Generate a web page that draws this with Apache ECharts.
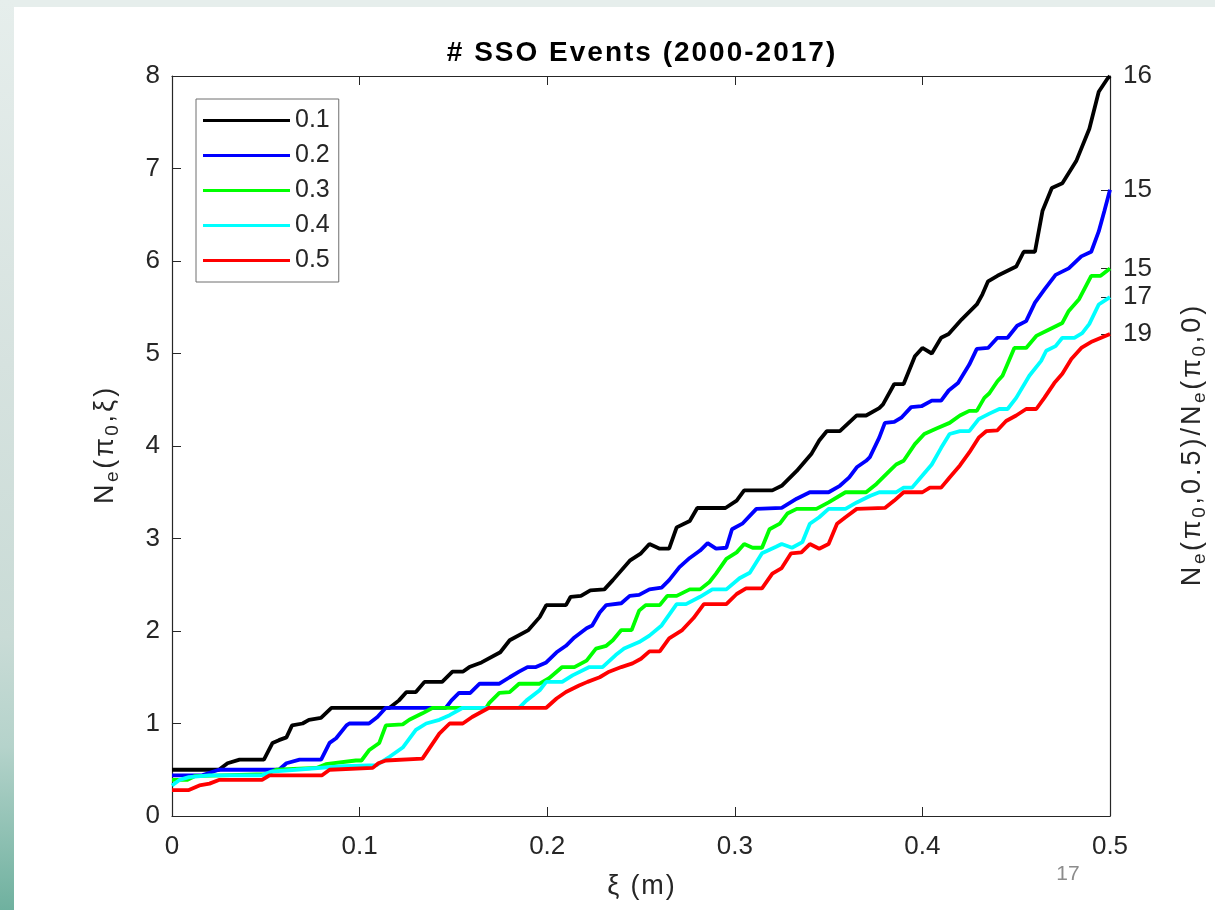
<!DOCTYPE html>
<html>
<head>
<meta charset="utf-8">
<title># SSO Events (2000-2017)</title>
<script src="https://cdn.jsdelivr.net/npm/echarts@6/dist/echarts.min.js"></script>
<style>
  html, body { margin: 0; padding: 0; width: 1215px; height: 910px; overflow: hidden; background: #e6eeec; }
  #strip { position: absolute; left: 0; top: 0; width: 14px; height: 910px;
    background: linear-gradient(to bottom, #e6eeec 0%, #d6e2df 40%, #c9dbd6 70%, #b5d3cb 82%, #6fb19f 100%); }
  #page { position: absolute; left: 14px; top: 7px; right: 0; bottom: 0; background: #ffffff; }
  #chart { position: absolute; left: 0; top: 0; width: 1215px; height: 910px; }
</style>
</head>
<body>
<div id="strip"></div>
<div id="page"></div>
<div id="chart"></div>
<script>
// Legend entries (pi_0 values) and curve colours
const piLevels = ['0.1', '0.2', '0.3', '0.4', '0.5'];
const curveColors = ['#000000', '#0000ff', '#00ff00', '#00ffff', '#ff0000'];
const xTicks = [0, 0.1, 0.2, 0.3, 0.4, 0.5];
const yTicks = [0, 1, 2, 3, 4, 5, 6, 7, 8];

// N_e(pi_0, xi) curves as [xi, N_e] pairs
const ne01 = [[0,0.5],[0.025,0.5],[0.0296,0.57],[0.036,0.61],[0.049,0.61],[0.0536,0.79],[0.057,0.82],[0.061,0.85],[0.064,0.98],[0.0696,1.0],[0.073,1.04],[0.0794,1.06],[0.085,1.17],[0.116,1.17],[0.121,1.25],[0.125,1.34],[0.13,1.34],[0.1346,1.45],[0.144,1.45],[0.1495,1.56],[0.155,1.56],[0.1585,1.61],[0.165,1.66],[0.175,1.77],[0.18,1.9],[0.19,2.01],[0.196,2.15],[0.1995,2.28],[0.21,2.28],[0.2125,2.37],[0.218,2.38],[0.223,2.44],[0.2305,2.45],[0.235,2.55],[0.244,2.76],[0.25,2.84],[0.2545,2.94],[0.26,2.89],[0.265,2.89],[0.269,3.12],[0.276,3.19],[0.28,3.33],[0.295,3.33],[0.301,3.41],[0.305,3.52],[0.32,3.52],[0.325,3.57],[0.333,3.73],[0.341,3.92],[0.345,4.06],[0.349,4.16],[0.356,4.16],[0.365,4.33],[0.37,4.33],[0.377,4.41],[0.379,4.45],[0.385,4.67],[0.39,4.67],[0.396,4.97],[0.4,5.06],[0.405,5.0],[0.41,5.17],[0.414,5.21],[0.421,5.37],[0.429,5.53],[0.432,5.64],[0.435,5.78],[0.44,5.84],[0.45,5.94],[0.454,6.1],[0.46,6.1],[0.464,6.54],[0.469,6.79],[0.4746,6.84],[0.482,7.08],[0.489,7.43],[0.494,7.83],[0.4986,7.97],[0.5,8.0]];
const ne02 = [[0,0.44],[0.016,0.44],[0.025,0.5],[0.057,0.5],[0.061,0.57],[0.068,0.61],[0.0795,0.61],[0.084,0.79],[0.0875,0.84],[0.093,0.98],[0.0945,1.0],[0.105,1.0],[0.1095,1.07],[0.114,1.17],[0.146,1.17],[0.149,1.25],[0.153,1.33],[0.159,1.33],[0.164,1.43],[0.1745,1.43],[0.18,1.5],[0.185,1.56],[0.1895,1.61],[0.194,1.61],[0.1995,1.66],[0.205,1.77],[0.21,1.84],[0.2145,1.93],[0.221,2.03],[0.224,2.06],[0.228,2.2],[0.2315,2.28],[0.2395,2.3],[0.244,2.38],[0.249,2.39],[0.2545,2.45],[0.261,2.47],[0.265,2.55],[0.2705,2.69],[0.276,2.79],[0.2815,2.87],[0.2855,2.95],[0.29,2.89],[0.2955,2.9],[0.2985,3.1],[0.304,3.16],[0.3115,3.32],[0.325,3.33],[0.333,3.43],[0.34,3.5],[0.35,3.5],[0.356,3.57],[0.361,3.66],[0.365,3.77],[0.37,3.84],[0.372,3.88],[0.377,4.09],[0.38,4.25],[0.385,4.26],[0.389,4.31],[0.394,4.42],[0.3995,4.43],[0.405,4.49],[0.41,4.49],[0.414,4.6],[0.419,4.68],[0.425,4.88],[0.429,5.05],[0.435,5.06],[0.44,5.17],[0.4454,5.17],[0.4505,5.3],[0.4553,5.35],[0.46,5.55],[0.465,5.69],[0.471,5.85],[0.478,5.92],[0.4847,6.05],[0.49,6.1],[0.494,6.32],[0.497,6.54],[0.5,6.77]];
const ne03 = [[0,0.39],[0.008,0.39],[0.012,0.43],[0.045,0.45],[0.05,0.45],[0.0555,0.5],[0.077,0.52],[0.082,0.56],[0.098,0.6],[0.101,0.6],[0.105,0.71],[0.1105,0.79],[0.114,0.98],[0.123,0.99],[0.1265,1.04],[0.1335,1.11],[0.139,1.17],[0.1675,1.17],[0.169,1.22],[0.1745,1.33],[0.18,1.34],[0.185,1.43],[0.196,1.43],[0.201,1.49],[0.208,1.61],[0.2145,1.61],[0.221,1.68],[0.226,1.81],[0.2315,1.84],[0.235,1.9],[0.2395,2.01],[0.245,2.01],[0.249,2.22],[0.2525,2.28],[0.26,2.28],[0.264,2.38],[0.269,2.38],[0.276,2.45],[0.2815,2.45],[0.2865,2.53],[0.29,2.62],[0.2955,2.78],[0.301,2.85],[0.305,2.94],[0.3095,2.9],[0.3145,2.9],[0.3185,3.1],[0.324,3.16],[0.328,3.27],[0.333,3.32],[0.3435,3.32],[0.35,3.39],[0.359,3.5],[0.37,3.5],[0.3755,3.59],[0.3825,3.73],[0.386,3.8],[0.39,3.84],[0.396,4.02],[0.401,4.13],[0.4075,4.19],[0.4145,4.25],[0.42,4.33],[0.425,4.38],[0.429,4.38],[0.433,4.52],[0.4357,4.57],[0.44,4.7],[0.4427,4.76],[0.449,5.06],[0.4553,5.06],[0.4607,5.19],[0.4676,5.26],[0.4746,5.33],[0.478,5.46],[0.4836,5.59],[0.49,5.84],[0.495,5.84],[0.5,5.92]];
const ne04 = [[0,0.33],[0.004,0.39],[0.009,0.42],[0.02,0.44],[0.048,0.44],[0.053,0.48],[0.066,0.5],[0.091,0.54],[0.109,0.55],[0.116,0.64],[0.123,0.74],[0.13,0.93],[0.1355,1.0],[0.1425,1.04],[0.148,1.09],[0.155,1.17],[0.185,1.17],[0.189,1.25],[0.196,1.36],[0.1995,1.45],[0.208,1.45],[0.2135,1.52],[0.2225,1.61],[0.2295,1.61],[0.2365,1.74],[0.241,1.81],[0.249,1.88],[0.2545,1.95],[0.261,2.06],[0.269,2.29],[0.274,2.29],[0.2815,2.37],[0.288,2.45],[0.2955,2.45],[0.3025,2.57],[0.308,2.63],[0.3145,2.84],[0.322,2.91],[0.325,2.94],[0.3305,2.9],[0.336,2.96],[0.34,3.16],[0.345,3.23],[0.35,3.32],[0.359,3.32],[0.365,3.39],[0.372,3.46],[0.377,3.5],[0.386,3.5],[0.39,3.55],[0.3945,3.55],[0.4,3.68],[0.405,3.8],[0.41,3.98],[0.4145,4.13],[0.42,4.16],[0.425,4.16],[0.43,4.29],[0.4357,4.35],[0.441,4.4],[0.4454,4.4],[0.45,4.52],[0.457,4.76],[0.4633,4.92],[0.466,5.03],[0.471,5.08],[0.4746,5.17],[0.481,5.17],[0.4852,5.22],[0.489,5.32],[0.494,5.53],[0.5,5.61]];
const ne05 = [[0,0.28],[0.009,0.28],[0.0146,0.33],[0.02,0.35],[0.025,0.39],[0.048,0.39],[0.052,0.44],[0.08,0.44],[0.084,0.5],[0.107,0.52],[0.11,0.57],[0.114,0.6],[0.1335,0.62],[0.1425,0.89],[0.148,1.0],[0.155,1.0],[0.16,1.07],[0.169,1.17],[0.1995,1.17],[0.205,1.27],[0.21,1.34],[0.217,1.41],[0.2215,1.45],[0.228,1.5],[0.233,1.56],[0.2395,1.61],[0.2455,1.65],[0.25,1.7],[0.2545,1.78],[0.26,1.78],[0.265,1.92],[0.272,2.01],[0.278,2.14],[0.2835,2.29],[0.2955,2.29],[0.301,2.4],[0.306,2.46],[0.3145,2.46],[0.32,2.62],[0.325,2.68],[0.33,2.84],[0.3355,2.85],[0.34,2.94],[0.345,2.89],[0.35,2.94],[0.3545,3.16],[0.359,3.23],[0.365,3.32],[0.38,3.33],[0.385,3.41],[0.39,3.5],[0.4,3.5],[0.404,3.55],[0.41,3.55],[0.4145,3.66],[0.42,3.79],[0.425,3.93],[0.43,4.09],[0.434,4.16],[0.44,4.17],[0.4446,4.27],[0.45,4.33],[0.4553,4.4],[0.4607,4.4],[0.465,4.52],[0.4703,4.68],[0.4746,4.78],[0.4794,4.94],[0.4847,5.06],[0.4905,5.13],[0.5,5.21]];

const curves = [ne01, ne02, ne03, ne04, ne05];

// Right-hand ticks sit at each curve's end value and show N_e(pi_0,0.5)/N_e(pi_0,0)
const endValues = curves.map(c => c[c.length - 1][1]);
const ratioLabels = curves.map(c => String(Math.round(c[c.length - 1][1] / c[0][1])));

const FONT = 'Liberation Sans, Arial, Helvetica, sans-serif';
const INK = '#262626';

// Build a rich-text string one glyph per token so each glyph gets a little
// extra side padding (TeX-style loose spacing). segments: [[text, styleKey], ...]
function spacedRich(segments) {
  return segments.map(([txt, key]) =>
    txt.split('').map(ch => '{' + key + '|' + ch + '}').join('')
  ).join('');
}

const chart = echarts.init(document.getElementById('chart'), null, { renderer: 'canvas' });

const richName = {
  n: { fontSize: 27, fontFamily: FONT, color: INK, padding: [0, 1.5, 0, 1.5] },
  s: { fontSize: 19, fontFamily: FONT, color: INK, padding: [14, 1.1, 0, 1.1] },
  x: { fontSize: 27, fontFamily: FONT, color: INK, padding: [0, 0.9, 0, 0.9] }
};

const option = {
  animation: false,
  backgroundColor: 'transparent',
  graphic: [
    { type: 'text', x: 641, y: 53,
      style: {
        text: spacedRich([['# SSO Events (2000-2017)', 't']]),
        x: 0, y: 0, align: 'center', verticalAlign: 'middle',
        rich: { t: { fontSize: 28, fontWeight: 'bold', fontFamily: FONT, fill: '#000000', padding: [0, 1.0, 0, 1.0] } }
      } },
    { type: 'text', x: 1068, y: 874,
      style: { text: '17', x: 0, y: 0, align: 'center', verticalAlign: 'middle',
               font: '21px ' + FONT, fill: '#8c8c8c' } }
  ],
  grid: { left: 172, right: 105, top: 76, bottom: 94, containLabel: false, outerBoundsMode: 'none' },
  legend: {
    orient: 'vertical', left: 196, top: 99,
    icon: 'rect', itemWidth: 87, itemHeight: 3, itemGap: 10, itemTextGap: 7,
    padding: [9, 9, 9, 7],
    borderColor: '#6e6e6e', borderWidth: 1, backgroundColor: '#ffffff',
    textStyle: { fontSize: 25, color: INK, fontFamily: FONT },
    data: piLevels
  },
  xAxis: [
    {
      type: 'value', position: 'bottom', min: xTicks[0], max: xTicks[xTicks.length - 1], interval: 0.1,
      name: spacedRich([['ξ (m)', 'x']]), nameLocation: 'middle', nameGap: 57,
      nameTextStyle: { rich: richName },
      axisLine: { show: true, lineStyle: { color: INK, width: 1.2 } },
      axisTick: { show: true, inside: true, length: 9, lineStyle: { color: INK } },
      axisLabel: { margin: 18, fontSize: 26, fontFamily: FONT, color: INK,
                   formatter: v => String(+(+v).toFixed(1)) },
      splitLine: { show: false }
    },
    {
      type: 'value', position: 'top', min: xTicks[0], max: xTicks[xTicks.length - 1], interval: 0.1,
      axisLine: { show: true, onZero: false, lineStyle: { color: INK, width: 1.2 } },
      axisTick: { show: true, inside: true, length: 9, lineStyle: { color: INK } },
      axisLabel: { show: false },
      splitLine: { show: false }
    }
  ],
  yAxis: [
    {
      type: 'value', position: 'left', min: yTicks[0], max: yTicks[yTicks.length - 1], interval: 1,
      name: spacedRich([['N', 'n'], ['e', 's'], ['(π', 'n'], ['0', 's'], [',ξ)', 'n']]),
      nameLocation: 'middle', nameGap: 50, nameRotate: 90,
      nameTextStyle: { rich: richName },
      axisLine: { show: true, lineStyle: { color: INK, width: 1.2 } },
      axisTick: { show: true, inside: true, length: 9, lineStyle: { color: INK } },
      axisLabel: { margin: 12, fontSize: 26, fontFamily: FONT, color: INK },
      splitLine: { show: false }
    },
    {
      type: 'value', position: 'right', min: yTicks[0], max: yTicks[yTicks.length - 1],
      name: spacedRich([['N', 'n'], ['e', 's'], ['(π', 'n'], ['0', 's'], [',0.5)/N', 'n'],
                        ['e', 's'], ['(π', 'n'], ['0', 's'], [',0)', 'n']]),
      nameLocation: 'middle', nameGap: 66, nameRotate: 90,
      nameTextStyle: { rich: richName },
      axisLine: { show: true, onZero: false, lineStyle: { color: INK, width: 1.2 } },
      axisTick: { show: true, inside: true, length: 9, customValues: endValues, lineStyle: { color: INK } },
      axisLabel: {
        margin: 13, fontSize: 26, fontFamily: FONT, color: INK,
        customValues: endValues,
        formatter: v => {
          let best = 0;
          endValues.forEach((e, i) => { if (Math.abs(e - v) < Math.abs(endValues[best] - v)) best = i; });
          return ratioLabels[best];
        }
      },
      splitLine: { show: false }
    }
  ],
  series: curves.map((data, i) => ({
    name: piLevels[i],
    type: 'line',
    xAxisIndex: 0,
    yAxisIndex: 0,
    data: data,
    symbol: 'none',
    showSymbol: false,
    smooth: false,
    color: curveColors[i],
    lineStyle: { color: curveColors[i], width: 3.8 },
    emphasis: { disabled: true }
  }))
};

chart.setOption(option);
</script>
</body>
</html>
